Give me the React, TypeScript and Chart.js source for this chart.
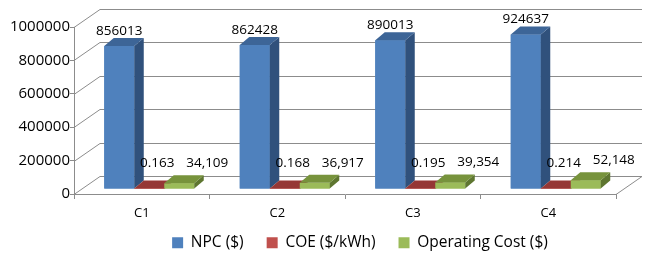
import React, { useEffect, useRef } from 'react';
import { Chart, registerables } from 'chart.js';

Chart.register(...registerables);

// ---- data ----
const categories = ['C1', 'C2', 'C3', 'C4'];
const seriesNames = ['NPC ($)', 'COE ($/kWh)', 'Operating Cost ($)'];
const npcValues = [856013, 862428, 890013, 924637];
const coeValues = [0.163, 0.168, 0.195, 0.214];
const opCostValues = [34109, 36917, 39354, 52148];
const yMin = 0;
const yMax = 1000000;
const yStep = 200000;

// ---- styles ----
const FONT = "'Open Sans', sans-serif";
const GRID = '#8c8c8c';
const WALL = { dx: 26, dy: -18 };
const BAR_SHIFT = { dx: 7.5, dy: -5 };
const BAR_DEPTH = { dx: 9.5, dy: -8 };
const LEGEND_SHIFT = { dx: 52, dy: -12 };

const seriesStyles = [
  { front: '#4F81BD', side: '#30517C', top: '#3D6597', lx: 0, ly: -15 },
  { front: '#C0504D', side: '#7E302E', top: '#953735', lx: 8, ly: -25 },
  { front: '#9BBB59', side: '#5E7630', top: '#77933C', lx: 28, ly: -20 },
];
const formatters = [
  (v: number) => String(v),
  (v: number) => v.toFixed(3),
  (v: number) => v.toLocaleString('en-US'),
];

const threeDPlugin = {
  id: 'threeD',
  afterLayout(chart: any) {
    const lg = chart.legend;
    if (lg) {
      lg.left += LEGEND_SHIFT.dx;
      lg.right += LEGEND_SHIFT.dx;
      lg.top += LEGEND_SHIFT.dy;
    }
  },
  beforeDatasetsDraw(chart: any) {
    const { ctx, chartArea, scales } = chart;
    const y = scales.y;
    ctx.save();
    ctx.strokeStyle = GRID;
    ctx.lineWidth = 1;
    ctx.beginPath();
    y.ticks.forEach((t: any) => {
      const py = Math.round(y.getPixelForValue(t.value)) + 0.5;
      const lx = chartArea.left;
      ctx.moveTo(lx, py);
      ctx.lineTo(lx + WALL.dx, py + WALL.dy);
      ctx.lineTo(chartArea.right + WALL.dx, py + WALL.dy);
    });
    const by = Math.round(y.getPixelForValue(0)) + 0.5;
    ctx.moveTo(chartArea.right, by);
    ctx.lineTo(chartArea.right + WALL.dx, by + WALL.dy);
    ctx.stroke();
    ctx.restore();
    ctx.save();
    ctx.translate(BAR_SHIFT.dx, BAR_SHIFT.dy);
  },
  afterDatasetsDraw(chart: any) {
    const { ctx } = chart;
    // painter's order: series left to right, each bar front + side + top
    chart.data.datasets.forEach((ds: any, i: number) => {
      const meta = chart.getDatasetMeta(i);
      const st = seriesStyles[i];
      meta.data.forEach((el: any) => {
        el.draw(ctx);
        const { x, y, base, width } = el.getProps(['x', 'y', 'base', 'width'], true);
        const l = x - width / 2;
        const r = x + width / 2;
        const top = Math.min(y, base);
        const bot = Math.max(y, base);
        ctx.fillStyle = st.side;
        ctx.beginPath();
        ctx.moveTo(r, top);
        ctx.lineTo(r + BAR_DEPTH.dx, top + BAR_DEPTH.dy);
        ctx.lineTo(r + BAR_DEPTH.dx, bot + BAR_DEPTH.dy);
        ctx.lineTo(r, bot);
        ctx.closePath();
        ctx.fill();
        ctx.fillStyle = st.top;
        ctx.beginPath();
        ctx.moveTo(l, top);
        ctx.lineTo(l + BAR_DEPTH.dx, top + BAR_DEPTH.dy);
        ctx.lineTo(r + BAR_DEPTH.dx, top + BAR_DEPTH.dy);
        ctx.lineTo(r, top);
        ctx.closePath();
        ctx.fill();
      });
    });
    // value labels
    ctx.save();
    ctx.font = `13.5px ${FONT}`;
    ctx.fillStyle = '#000';
    ctx.textAlign = 'center';
    ctx.textBaseline = 'middle';
    chart.data.datasets.forEach((ds: any, i: number) => {
      const meta = chart.getDatasetMeta(i);
      const st = seriesStyles[i];
      meta.data.forEach((el: any, j: number) => {
        const { x, y, base } = el.getProps(['x', 'y', 'base'], true);
        const top = Math.min(y, base);
        ctx.fillText(formatters[i](ds.data[j]), x + st.lx, top + st.ly);
      });
    });
    ctx.restore();
    ctx.restore();
  },
};

export default function App() {
  const ref = useRef<HTMLCanvasElement>(null);
  useEffect(() => {
    if (!ref.current) return;
    const values = [npcValues, coeValues, opCostValues];
    const chart = new Chart(ref.current, {
      type: 'bar',
      data: {
        labels: categories,
        datasets: values.map((v, i) => ({
          label: seriesNames[i],
          data: v,
          backgroundColor: seriesStyles[i].front,
          borderWidth: 0,
          clip: false as any,
        })),
      },
      options: {
        responsive: false,
        animation: false,
        events: [],
        layout: { padding: { top: 27, right: 32, bottom: 0, left: 0 } },
        datasets: { bar: { categoryPercentage: 0.664, barPercentage: 1 } },
        scales: {
          x: {
            offset: true,
            grid: { offset: true, drawOnChartArea: false, drawTicks: true, tickLength: 5, color: GRID },
            border: { color: GRID },
            ticks: { color: '#000', font: { family: FONT, size: 13 }, padding: 6 },
            afterFit: (s: any) => { s.height = 30; },
          },
          y: {
            min: yMin,
            max: yMax,
            grid: { drawOnChartArea: false, drawTicks: true, tickLength: 4, color: GRID },
            border: { color: GRID },
            ticks: {
              stepSize: yStep,
              padding: 0,
              color: '#000',
              font: { family: FONT, size: 15 },
              callback: (v: any) => String(v),
            },
            afterFit: (s: any) => { s.width = 74; },
          },
        },
        plugins: {
          legend: {
            position: 'bottom',
            maxHeight: 31,
            labels: {
              boxWidth: 11,
              boxHeight: 11,
              padding: 23,
              color: '#000',
              font: { family: FONT, size: 15.5 },
            },
          },
          tooltip: { enabled: false },
        },
      },
      plugins: [threeDPlugin],
    });
    return () => chart.destroy();
  }, []);
  return (
    <div style={{ position: 'absolute', left: 0, top: 0, width: 648, height: 255, background: '#fff' }}>
      <canvas ref={ref} width={648} height={255} style={{ display: 'block' }} />
    </div>
  );
}
